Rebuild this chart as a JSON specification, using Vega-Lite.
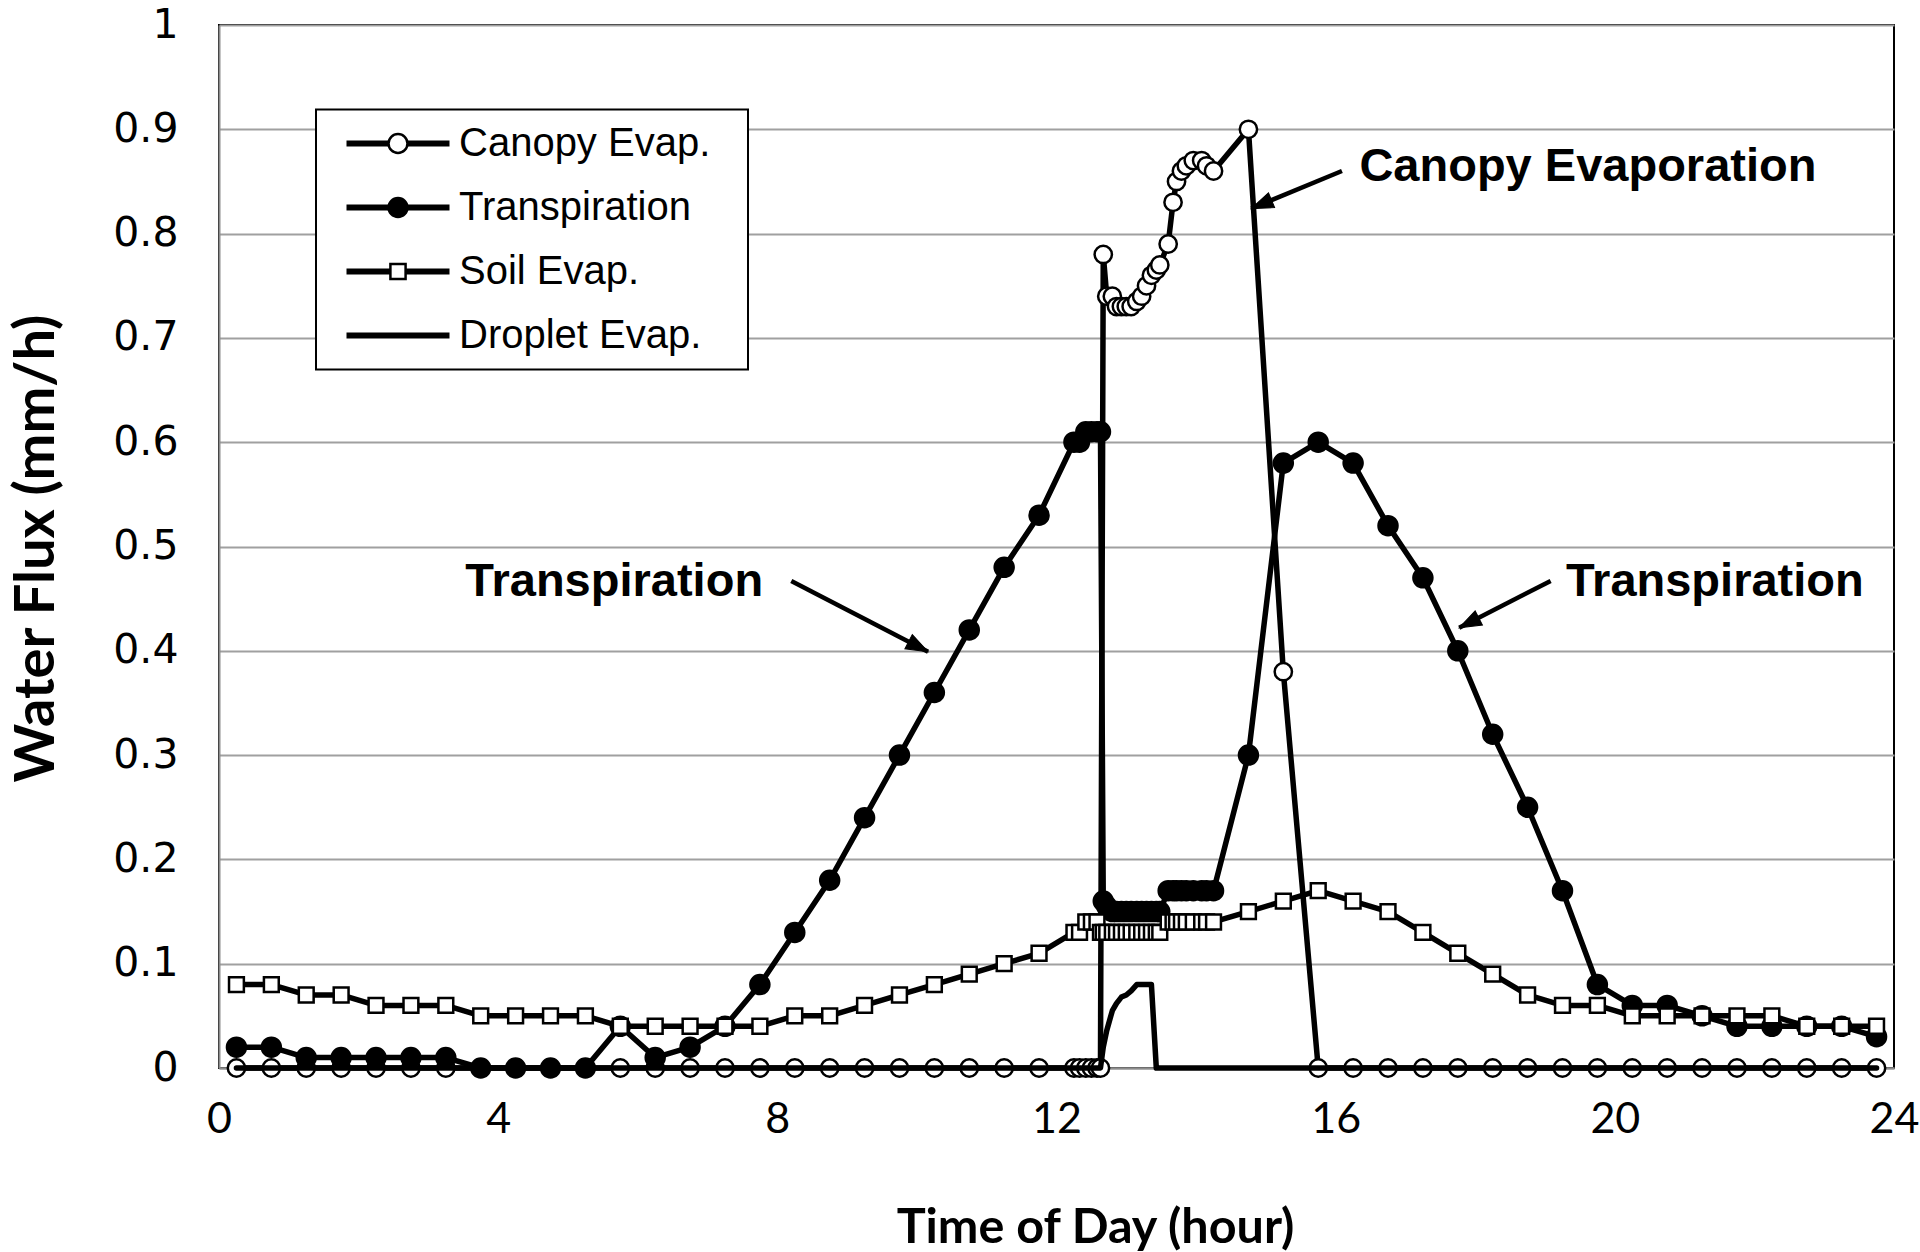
{
  "$schema": "https://vega.github.io/schema/vega-lite/v6.json",
  "width": 1675,
  "height": 1043,
  "autosize": "none",
  "padding": {"left": 219, "top": 25, "right": 26, "bottom": 184},
  "background": "white",
  "config": {"view": {"stroke": "black", "strokeWidth": 2}, "legend": {"strokeWidth": 2}},
  "datasets": {
    "flux": [
      {"series":"Canopy Evap.","t":0.25,"v":0},{"series":"Canopy Evap.","t":0.75,"v":0},{"series":"Canopy Evap.","t":1.25,"v":0},{"series":"Canopy Evap.","t":1.75,"v":0},{"series":"Canopy Evap.","t":2.25,"v":0},{"series":"Canopy Evap.","t":2.75,"v":0},{"series":"Canopy Evap.","t":3.25,"v":0},{"series":"Canopy Evap.","t":3.75,"v":0},{"series":"Canopy Evap.","t":4.25,"v":0},{"series":"Canopy Evap.","t":4.75,"v":0},{"series":"Canopy Evap.","t":5.25,"v":0},{"series":"Canopy Evap.","t":5.75,"v":0},{"series":"Canopy Evap.","t":6.25,"v":0},{"series":"Canopy Evap.","t":6.75,"v":0},{"series":"Canopy Evap.","t":7.25,"v":0},{"series":"Canopy Evap.","t":7.75,"v":0},{"series":"Canopy Evap.","t":8.25,"v":0},{"series":"Canopy Evap.","t":8.75,"v":0},{"series":"Canopy Evap.","t":9.25,"v":0},{"series":"Canopy Evap.","t":9.75,"v":0},{"series":"Canopy Evap.","t":10.25,"v":0},{"series":"Canopy Evap.","t":10.75,"v":0},{"series":"Canopy Evap.","t":11.25,"v":0},{"series":"Canopy Evap.","t":11.75,"v":0},{"series":"Canopy Evap.","t":12.25,"v":0},
      {"series":"Canopy Evap.","t":12.33,"v":0},{"series":"Canopy Evap.","t":12.42,"v":0},{"series":"Canopy Evap.","t":12.5,"v":0},{"series":"Canopy Evap.","t":12.58,"v":0},{"series":"Canopy Evap.","t":12.63,"v":0},{"series":"Canopy Evap.","t":12.67,"v":0.78},{"series":"Canopy Evap.","t":12.72,"v":0.74},{"series":"Canopy Evap.","t":12.8,"v":0.74},{"series":"Canopy Evap.","t":12.86,"v":0.73},{"series":"Canopy Evap.","t":12.93,"v":0.73},{"series":"Canopy Evap.","t":13.0,"v":0.73},{"series":"Canopy Evap.","t":13.07,"v":0.73},{"series":"Canopy Evap.","t":13.15,"v":0.735},{"series":"Canopy Evap.","t":13.22,"v":0.74},{"series":"Canopy Evap.","t":13.29,"v":0.75},{"series":"Canopy Evap.","t":13.36,"v":0.76},{"series":"Canopy Evap.","t":13.43,"v":0.765},{"series":"Canopy Evap.","t":13.48,"v":0.77},{"series":"Canopy Evap.","t":13.6,"v":0.79},{"series":"Canopy Evap.","t":13.67,"v":0.83},{"series":"Canopy Evap.","t":13.72,"v":0.85},{"series":"Canopy Evap.","t":13.79,"v":0.86},{"series":"Canopy Evap.","t":13.86,"v":0.865},{"series":"Canopy Evap.","t":13.96,"v":0.87},{"series":"Canopy Evap.","t":14.08,"v":0.87},{"series":"Canopy Evap.","t":14.15,"v":0.865},{"series":"Canopy Evap.","t":14.25,"v":0.86},
      {"series":"Canopy Evap.","t":14.75,"v":0.9},{"series":"Canopy Evap.","t":15.25,"v":0.38},{"series":"Canopy Evap.","t":15.75,"v":0},{"series":"Canopy Evap.","t":16.25,"v":0},{"series":"Canopy Evap.","t":16.75,"v":0},{"series":"Canopy Evap.","t":17.25,"v":0},{"series":"Canopy Evap.","t":17.75,"v":0},{"series":"Canopy Evap.","t":18.25,"v":0},{"series":"Canopy Evap.","t":18.75,"v":0},{"series":"Canopy Evap.","t":19.25,"v":0},{"series":"Canopy Evap.","t":19.75,"v":0},{"series":"Canopy Evap.","t":20.25,"v":0},{"series":"Canopy Evap.","t":20.75,"v":0},{"series":"Canopy Evap.","t":21.25,"v":0},{"series":"Canopy Evap.","t":21.75,"v":0},{"series":"Canopy Evap.","t":22.25,"v":0},{"series":"Canopy Evap.","t":22.75,"v":0},{"series":"Canopy Evap.","t":23.25,"v":0},{"series":"Canopy Evap.","t":23.75,"v":0},

      {"series":"Transpiration","t":0.25,"v":0.02},{"series":"Transpiration","t":0.75,"v":0.02},{"series":"Transpiration","t":1.25,"v":0.01},{"series":"Transpiration","t":1.75,"v":0.01},{"series":"Transpiration","t":2.25,"v":0.01},{"series":"Transpiration","t":2.75,"v":0.01},{"series":"Transpiration","t":3.25,"v":0.01},{"series":"Transpiration","t":3.75,"v":0},{"series":"Transpiration","t":4.25,"v":0},{"series":"Transpiration","t":4.75,"v":0},{"series":"Transpiration","t":5.25,"v":0},{"series":"Transpiration","t":5.75,"v":0.04},{"series":"Transpiration","t":6.25,"v":0.01},{"series":"Transpiration","t":6.75,"v":0.02},{"series":"Transpiration","t":7.25,"v":0.04},{"series":"Transpiration","t":7.75,"v":0.08},{"series":"Transpiration","t":8.25,"v":0.13},{"series":"Transpiration","t":8.75,"v":0.18},{"series":"Transpiration","t":9.25,"v":0.24},{"series":"Transpiration","t":9.75,"v":0.3},{"series":"Transpiration","t":10.25,"v":0.36},{"series":"Transpiration","t":10.75,"v":0.42},{"series":"Transpiration","t":11.25,"v":0.48},{"series":"Transpiration","t":11.75,"v":0.53},{"series":"Transpiration","t":12.25,"v":0.6},
      {"series":"Transpiration","t":12.33,"v":0.6},{"series":"Transpiration","t":12.42,"v":0.61},{"series":"Transpiration","t":12.5,"v":0.61},{"series":"Transpiration","t":12.58,"v":0.61},{"series":"Transpiration","t":12.63,"v":0.61},{"series":"Transpiration","t":12.67,"v":0.16},{"series":"Transpiration","t":12.72,"v":0.155},{"series":"Transpiration","t":12.8,"v":0.15},{"series":"Transpiration","t":12.86,"v":0.15},{"series":"Transpiration","t":12.93,"v":0.15},{"series":"Transpiration","t":13.0,"v":0.15},{"series":"Transpiration","t":13.07,"v":0.15},{"series":"Transpiration","t":13.15,"v":0.15},{"series":"Transpiration","t":13.22,"v":0.15},{"series":"Transpiration","t":13.29,"v":0.15},{"series":"Transpiration","t":13.36,"v":0.15},{"series":"Transpiration","t":13.43,"v":0.15},{"series":"Transpiration","t":13.48,"v":0.15},{"series":"Transpiration","t":13.6,"v":0.17},{"series":"Transpiration","t":13.67,"v":0.17},{"series":"Transpiration","t":13.72,"v":0.17},{"series":"Transpiration","t":13.79,"v":0.17},{"series":"Transpiration","t":13.86,"v":0.17},{"series":"Transpiration","t":13.96,"v":0.17},{"series":"Transpiration","t":14.08,"v":0.17},{"series":"Transpiration","t":14.15,"v":0.17},{"series":"Transpiration","t":14.25,"v":0.17},
      {"series":"Transpiration","t":14.75,"v":0.3},{"series":"Transpiration","t":15.25,"v":0.58},{"series":"Transpiration","t":15.75,"v":0.6},{"series":"Transpiration","t":16.25,"v":0.58},{"series":"Transpiration","t":16.75,"v":0.52},{"series":"Transpiration","t":17.25,"v":0.47},{"series":"Transpiration","t":17.75,"v":0.4},{"series":"Transpiration","t":18.25,"v":0.32},{"series":"Transpiration","t":18.75,"v":0.25},{"series":"Transpiration","t":19.25,"v":0.17},{"series":"Transpiration","t":19.75,"v":0.08},{"series":"Transpiration","t":20.25,"v":0.06},{"series":"Transpiration","t":20.75,"v":0.06},{"series":"Transpiration","t":21.25,"v":0.05},{"series":"Transpiration","t":21.75,"v":0.04},{"series":"Transpiration","t":22.25,"v":0.04},{"series":"Transpiration","t":22.75,"v":0.04},{"series":"Transpiration","t":23.25,"v":0.04},{"series":"Transpiration","t":23.75,"v":0.03},

      {"series":"Soil Evap.","t":0.25,"v":0.08},{"series":"Soil Evap.","t":0.75,"v":0.08},{"series":"Soil Evap.","t":1.25,"v":0.07},{"series":"Soil Evap.","t":1.75,"v":0.07},{"series":"Soil Evap.","t":2.25,"v":0.06},{"series":"Soil Evap.","t":2.75,"v":0.06},{"series":"Soil Evap.","t":3.25,"v":0.06},{"series":"Soil Evap.","t":3.75,"v":0.05},{"series":"Soil Evap.","t":4.25,"v":0.05},{"series":"Soil Evap.","t":4.75,"v":0.05},{"series":"Soil Evap.","t":5.25,"v":0.05},{"series":"Soil Evap.","t":5.75,"v":0.04},{"series":"Soil Evap.","t":6.25,"v":0.04},{"series":"Soil Evap.","t":6.75,"v":0.04},{"series":"Soil Evap.","t":7.25,"v":0.04},{"series":"Soil Evap.","t":7.75,"v":0.04},{"series":"Soil Evap.","t":8.25,"v":0.05},{"series":"Soil Evap.","t":8.75,"v":0.05},{"series":"Soil Evap.","t":9.25,"v":0.06},{"series":"Soil Evap.","t":9.75,"v":0.07},{"series":"Soil Evap.","t":10.25,"v":0.08},{"series":"Soil Evap.","t":10.75,"v":0.09},{"series":"Soil Evap.","t":11.25,"v":0.1},{"series":"Soil Evap.","t":11.75,"v":0.11},{"series":"Soil Evap.","t":12.25,"v":0.13},
      {"series":"Soil Evap.","t":12.33,"v":0.13},{"series":"Soil Evap.","t":12.42,"v":0.14},{"series":"Soil Evap.","t":12.5,"v":0.14},{"series":"Soil Evap.","t":12.58,"v":0.14},{"series":"Soil Evap.","t":12.63,"v":0.13},{"series":"Soil Evap.","t":12.67,"v":0.13},{"series":"Soil Evap.","t":12.72,"v":0.13},{"series":"Soil Evap.","t":12.8,"v":0.13},{"series":"Soil Evap.","t":12.86,"v":0.13},{"series":"Soil Evap.","t":12.93,"v":0.13},{"series":"Soil Evap.","t":13.0,"v":0.13},{"series":"Soil Evap.","t":13.07,"v":0.13},{"series":"Soil Evap.","t":13.15,"v":0.13},{"series":"Soil Evap.","t":13.22,"v":0.13},{"series":"Soil Evap.","t":13.29,"v":0.13},{"series":"Soil Evap.","t":13.36,"v":0.13},{"series":"Soil Evap.","t":13.43,"v":0.13},{"series":"Soil Evap.","t":13.48,"v":0.13},{"series":"Soil Evap.","t":13.6,"v":0.14},{"series":"Soil Evap.","t":13.67,"v":0.14},{"series":"Soil Evap.","t":13.72,"v":0.14},{"series":"Soil Evap.","t":13.79,"v":0.14},{"series":"Soil Evap.","t":13.86,"v":0.14},{"series":"Soil Evap.","t":13.96,"v":0.14},{"series":"Soil Evap.","t":14.08,"v":0.14},{"series":"Soil Evap.","t":14.15,"v":0.14},{"series":"Soil Evap.","t":14.25,"v":0.14},
      {"series":"Soil Evap.","t":14.75,"v":0.15},{"series":"Soil Evap.","t":15.25,"v":0.16},{"series":"Soil Evap.","t":15.75,"v":0.17},{"series":"Soil Evap.","t":16.25,"v":0.16},{"series":"Soil Evap.","t":16.75,"v":0.15},{"series":"Soil Evap.","t":17.25,"v":0.13},{"series":"Soil Evap.","t":17.75,"v":0.11},{"series":"Soil Evap.","t":18.25,"v":0.09},{"series":"Soil Evap.","t":18.75,"v":0.07},{"series":"Soil Evap.","t":19.25,"v":0.06},{"series":"Soil Evap.","t":19.75,"v":0.06},{"series":"Soil Evap.","t":20.25,"v":0.05},{"series":"Soil Evap.","t":20.75,"v":0.05},{"series":"Soil Evap.","t":21.25,"v":0.05},{"series":"Soil Evap.","t":21.75,"v":0.05},{"series":"Soil Evap.","t":22.25,"v":0.05},{"series":"Soil Evap.","t":22.75,"v":0.04},{"series":"Soil Evap.","t":23.25,"v":0.04},{"series":"Soil Evap.","t":23.75,"v":0.04},

      {"series":"Droplet Evap.","t":0.25,"v":0},{"series":"Droplet Evap.","t":12.63,"v":0},{"series":"Droplet Evap.","t":12.67,"v":0.02},{"series":"Droplet Evap.","t":12.72,"v":0.036},{"series":"Droplet Evap.","t":12.8,"v":0.055},{"series":"Droplet Evap.","t":12.86,"v":0.062},{"series":"Droplet Evap.","t":12.93,"v":0.068},{"series":"Droplet Evap.","t":13.0,"v":0.07},{"series":"Droplet Evap.","t":13.07,"v":0.074},{"series":"Droplet Evap.","t":13.15,"v":0.08},{"series":"Droplet Evap.","t":13.22,"v":0.08},{"series":"Droplet Evap.","t":13.29,"v":0.08},{"series":"Droplet Evap.","t":13.36,"v":0.08},{"series":"Droplet Evap.","t":13.43,"v":0},{"series":"Droplet Evap.","t":23.75,"v":0}
    ],
    "notes": [
      {"label":"Canopy Evaporation","x":16.34,"y":0.85},
      {"label":"Transpiration","x":3.53,"y":0.453},
      {"label":"Transpiration","x":19.3,"y":0.453}
    ],
    "arrows": [
      {"name":"canopy","x":16.09,"y":0.86,"x2":14.79,"y2":0.824},
      {"name":"left","x":8.2,"y":0.467,"x2":10.16,"y2":0.399},
      {"name":"right","x":19.08,"y":0.467,"x2":17.77,"y2":0.422}
    ]
  },
  "layer": [
    {
      "data": {"name": "flux"},
      "transform": [{"filter": "datum.series === 'Canopy Evap.'"}],
      "mark": {"type": "line", "color": "black", "strokeWidth": 5.5, "strokeJoin": "round", "strokeCap": "round"},
      "encoding": {
        "x": {"field": "t", "type": "quantitative", "scale": {"domain": [0, 24], "nice": false},
          "axis": {"values": [0, 4, 8, 12, 16, 20, 24], "format": "~g", "labelFlush": false, "labelOverlap": false, "labelFont": "Lato", "labelFontSize": 43, "labelColor": "black", "labelPadding": 30, "ticks": false, "grid": false, "domainColor": "#8c8c8c", "domainWidth": 2,
            "title": "Time of Day (hour)", "titleFont": "Lato", "titleFontWeight": "bold", "titleFontSize": 48.5, "titleColor": "black", "titleX": 876, "titleY": 174, "titleBaseline": "alphabetic", "titleAlign": "center"}},
        "y": {"field": "v", "type": "quantitative", "scale": {"domain": [0, 1], "nice": false},
          "axis": {"values": [0, 0.1, 0.2, 0.3, 0.4, 0.5, 0.6, 0.7, 0.8, 0.9, 1], "format": "~g", "labelOverlap": false, "labelFont": "DejaVu Sans", "labelFontSize": 41, "labelColor": "black", "labelPadding": 41, "ticks": false, "grid": true, "gridColor": "#a0a0a0", "gridWidth": 2, "domainColor": "#8c8c8c", "domainWidth": 2,
            "title": "Water Flux (mm/h)", "titleFont": "Lato", "titleFontWeight": "bold", "titleFontSize": 56, "titleColor": "black", "titleX": -166, "titleY": 523, "titleAngle": -90, "titleBaseline": "alphabetic", "titleAlign": "center"}}
      }
    },
    {
      "data": {"name": "flux"},
      "transform": [{"filter": "datum.series === 'Canopy Evap.'"}],
      "mark": {"type": "point", "shape": "circle", "filled": true, "fill": "white", "stroke": "black", "strokeWidth": 2.5, "size": 300, "opacity": 1},
      "encoding": {"x": {"field": "t", "type": "quantitative"}, "y": {"field": "v", "type": "quantitative"}}
    },
    {
      "data": {"name": "flux"},
      "transform": [{"filter": "datum.series === 'Transpiration'"}],
      "mark": {"type": "line", "color": "black", "strokeWidth": 5.5, "strokeJoin": "round", "strokeCap": "round"},
      "encoding": {"x": {"field": "t", "type": "quantitative"}, "y": {"field": "v", "type": "quantitative"}}
    },
    {
      "data": {"name": "flux"},
      "transform": [{"filter": "datum.series === 'Transpiration'"}],
      "mark": {"type": "point", "shape": "circle", "filled": true, "fill": "black", "stroke": "black", "strokeWidth": 2, "size": 380, "opacity": 1},
      "encoding": {"x": {"field": "t", "type": "quantitative"}, "y": {"field": "v", "type": "quantitative"}}
    },
    {
      "data": {"name": "flux"},
      "transform": [{"filter": "datum.series === 'Soil Evap.'"}],
      "mark": {"type": "line", "color": "black", "strokeWidth": 5.5, "strokeJoin": "round", "strokeCap": "round"},
      "encoding": {"x": {"field": "t", "type": "quantitative"}, "y": {"field": "v", "type": "quantitative"}}
    },
    {
      "data": {"name": "flux"},
      "transform": [{"filter": "datum.series === 'Soil Evap.'"}],
      "mark": {"type": "point", "shape": "square", "filled": true, "fill": "white", "stroke": "black", "strokeWidth": 2.5, "size": 220, "opacity": 1},
      "encoding": {"x": {"field": "t", "type": "quantitative"}, "y": {"field": "v", "type": "quantitative"}}
    },
    {
      "data": {"name": "flux"},
      "transform": [{"filter": "datum.series === 'Droplet Evap.'"}],
      "mark": {"type": "line", "color": "black", "strokeWidth": 5.5, "strokeJoin": "round", "strokeCap": "round"},
      "encoding": {"x": {"field": "t", "type": "quantitative"}, "y": {"field": "v", "type": "quantitative"}}
    },
    {
      "data": {"name": "flux"},
      "transform": [{"filter": "datum.t < 0"}],
      "mark": {"type": "line", "strokeWidth": 6},
      "encoding": {
        "x": {"field": "t", "type": "quantitative"},
        "y": {"field": "v", "type": "quantitative"},
        "color": {"field": "series", "type": "nominal",
          "scale": {"domain": ["Canopy Evap.", "Transpiration", "Soil Evap.", "Droplet Evap."], "range": ["#000000", "#000000", "#000000", "#000000"]},
          "legend": {"orient": "none", "legendX": 97, "legendY": 84.5, "title": "\u00a0", "titleOrient": "right", "titlePadding": 36, "titleFontSize": 1, "padding": 2, "clipHeight": 64, "rowPadding": 0,
            "symbolType": "stroke", "symbolSize": 10609, "symbolStrokeWidth": 6, "symbolOffset": 25.5, "labelOffset": 6.5,
            "labelFont": "Liberation Sans", "labelFontSize": 40, "labelColor": "black", "labelLimit": 1000,
            "strokeColor": "black", "fillColor": "white"}}
      }
    },
    {
      "data": {"name": "flux"},
      "transform": [{"filter": "datum.t < 0"}],
      "mark": {"type": "point", "filled": true, "stroke": "black", "strokeWidth": 2.5, "opacity": 1},
      "encoding": {
        "x": {"field": "t", "type": "quantitative"},
        "y": {"field": "v", "type": "quantitative"},
        "shape": {"field": "series", "type": "nominal",
          "scale": {"domain": ["m1", "m2", "m3", "m4"], "range": ["circle", "circle", "M-0.8,-0.8H0.8V0.8H-0.8Z", "M0,0"]},
          "legend": {"orient": "none", "legendX": 163, "legendY": 81.5, "title": null, "padding": 5, "clipHeight": 64, "rowPadding": 0,
            "symbolSize": 360, "symbolStrokeWidth": 2.5, "symbolStrokeColor": "black", "symbolOffset": 0, "labelExpr": "''", "labelFontSize": 1, "labelOffset": 0}},
        "fill": {"field": "series", "type": "nominal",
          "scale": {"domain": ["m1", "m2", "m3", "m4"], "range": ["#ffffff", "#000000", "#ffffff", "#ffffff"]},
          "legend": {"orient": "none", "legendX": 163, "legendY": 81.5, "title": null, "padding": 5, "clipHeight": 64, "rowPadding": 0,
            "symbolSize": 360, "symbolStrokeWidth": 2.5, "symbolStrokeColor": "black", "symbolOffset": 0, "labelExpr": "''", "labelFontSize": 1, "labelOffset": 0}},
        "stroke": {"field": "series", "type": "nominal",
          "scale": {"domain": ["m1", "m2", "m3", "m4"], "range": ["#000000", "#000000", "#000000", "#000000"]},
          "legend": {"orient": "none", "legendX": 163, "legendY": 81.5, "title": null, "padding": 5, "clipHeight": 64, "rowPadding": 0,
            "symbolSize": 360, "symbolStrokeWidth": 2.5, "symbolOffset": 0, "labelExpr": "''", "labelFontSize": 1, "labelOffset": 0}}
      }
    },
    {
      "data": {"name": "arrows"},
      "mark": {"type": "rule", "color": "black", "strokeWidth": 4.5},
      "encoding": {
        "x": {"field": "x", "type": "quantitative"}, "y": {"field": "y", "type": "quantitative"},
        "x2": {"field": "x2"}, "y2": {"field": "y2"}
      }
    },
    {
      "data": {"name": "arrows"},
      "transform": [{"filter": "datum.name === 'canopy'"}],
      "mark": {"type": "point", "shape": "M0,0 L0.8,2.2 L-0.8,2.2 Z", "size": 400, "angle": 247.5, "filled": true, "fill": "black", "stroke": "black", "strokeWidth": 1, "opacity": 1},
      "encoding": {"x": {"field": "x2", "type": "quantitative"}, "y": {"field": "y2", "type": "quantitative"}}
    },
    {
      "data": {"name": "arrows"},
      "transform": [{"filter": "datum.name === 'left'"}],
      "mark": {"type": "point", "shape": "M0,0 L0.8,2.2 L-0.8,2.2 Z", "size": 400, "angle": 117.6, "filled": true, "fill": "black", "stroke": "black", "strokeWidth": 1, "opacity": 1},
      "encoding": {"x": {"field": "x2", "type": "quantitative"}, "y": {"field": "y2", "type": "quantitative"}}
    },
    {
      "data": {"name": "arrows"},
      "transform": [{"filter": "datum.name === 'right'"}],
      "mark": {"type": "point", "shape": "M0,0 L0.8,2.2 L-0.8,2.2 Z", "size": 400, "angle": 243, "filled": true, "fill": "black", "stroke": "black", "strokeWidth": 1, "opacity": 1},
      "encoding": {"x": {"field": "x2", "type": "quantitative"}, "y": {"field": "y2", "type": "quantitative"}}
    },
    {
      "data": {"name": "notes"},
      "mark": {"type": "text", "font": "Liberation Sans", "fontWeight": "bold", "fontSize": 47, "color": "black", "align": "left", "baseline": "alphabetic"},
      "encoding": {"x": {"field": "x", "type": "quantitative"}, "y": {"field": "y", "type": "quantitative"}, "text": {"field": "label"}}
    }
  ]
}
